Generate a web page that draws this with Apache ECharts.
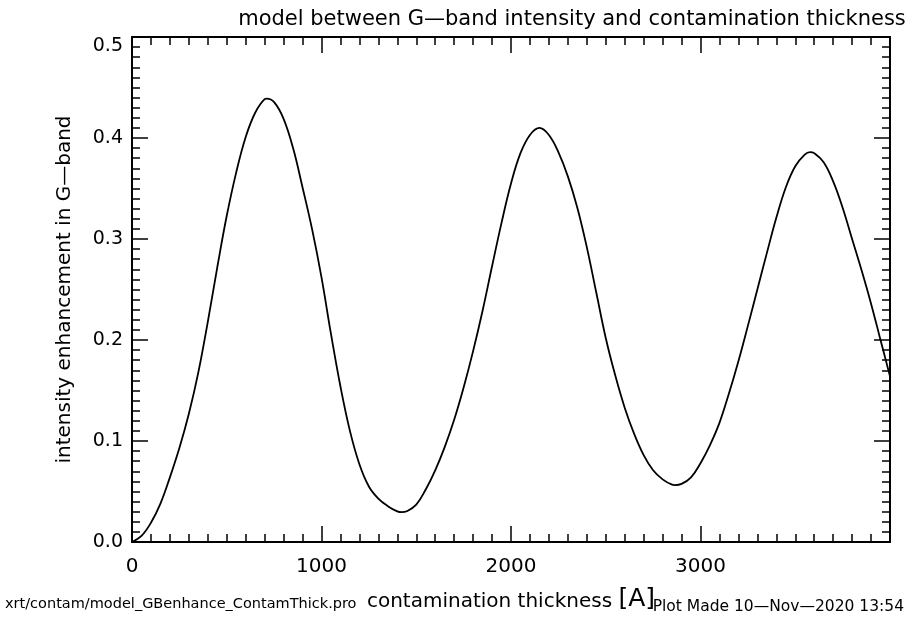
<!DOCTYPE html>
<html>
<head>
<meta charset="utf-8">
<script src="https://cdn.jsdelivr.net/npm/echarts@6/dist/echarts.min.js"></script>
<style>
html,body{margin:0;padding:0;background:#fff;}
#chart{width:914px;height:617px;}
</style>
</head>
<body>
<div id="chart"></div>
<script>
// contamination thickness [A] (read every 50, plus the read extrema)
const thickness = [0, 50, 100, 150, 200, 250, 300, 350, 400, 450, 500, 550, 600, 650, 700, 711, 750, 800, 850, 900, 950,
  1000, 1050, 1100, 1150, 1200, 1250, 1300, 1350, 1400, 1423, 1450, 1500, 1550, 1600, 1650, 1700, 1750, 1800, 1850, 1900, 1950,
  2000, 2050, 2100, 2150, 2200, 2250, 2300, 2350, 2400, 2450, 2500, 2550, 2600, 2650, 2700, 2750, 2800, 2850, 2865, 2900, 2950,
  3000, 3050, 3100, 3150, 3200, 3250, 3300, 3350, 3400, 3450, 3500, 3550, 3578, 3600, 3650, 3700, 3750, 3800, 3850, 3900, 3950, 4000];
// intensity enhancement in G-band
const enhancement = [0.000, 0.006, 0.019, 0.038, 0.064, 0.093, 0.127, 0.168, 0.218, 0.272, 0.323, 0.366, 0.401, 0.425, 0.4385, 0.439, 0.4355, 0.419, 0.390, 0.351, 0.310,
  0.262, 0.206, 0.154, 0.110, 0.077, 0.055, 0.043, 0.0355, 0.0303, 0.0295, 0.0304, 0.037, 0.052, 0.071, 0.094, 0.121, 0.153, 0.189, 0.229, 0.273, 0.316,
  0.355, 0.385, 0.403, 0.410, 0.403, 0.386, 0.362, 0.331, 0.292, 0.247, 0.202, 0.165, 0.133, 0.107, 0.086, 0.071, 0.062, 0.0568, 0.0564, 0.0575, 0.064,
  0.078, 0.096, 0.118, 0.147, 0.179, 0.214, 0.250, 0.286, 0.321, 0.351, 0.372, 0.3835, 0.386, 0.385, 0.376, 0.357, 0.331, 0.300, 0.269, 0.236, 0.200, 0.164];
const xTicks = [0, 1000, 2000, 3000];
const yTicks = [0.0, 0.1, 0.2, 0.3, 0.4, 0.5];

const FONT = 'DejaVu Sans';
const chart = echarts.init(document.getElementById('chart'));
const lineOn = {show: true, onZero: false, lineStyle: {color: '#000', width: 2}};
const lineOff = {show: false, onZero: false};
const major = {show: true, inside: true, length: 16, lineStyle: {color: '#000', width: 1.5}};
const minor = {show: true, inside: true, length: 8, lineStyle: {color: '#000', width: 1.5}};

function xAx(pos, interval, tick, withLine) {
  return {type: 'value', min: 0, max: 4000, interval: interval, position: pos,
    axisLine: withLine ? lineOn : lineOff, axisTick: tick, splitLine: {show: false}, axisLabel: {show: false}};
}
function yAx(pos, interval, tick, withLine) {
  return {type: 'value', min: 0, max: 0.5, interval: interval, position: pos,
    axisLine: withLine ? lineOn : lineOff, axisTick: tick, splitLine: {show: false}, axisLabel: {show: false}};
}

const xMain = xAx('bottom', 1000, major, true);
xMain.axisLabel = {
  show: true, margin: 15, color: '#000', fontFamily: FONT, fontSize: 20,
  formatter: v => xTicks.includes(v) ? String(v) : ''
};
xMain.name = '{a|contamination thickness }{b|[A]}';
xMain.nameLocation = 'middle';
xMain.nameGap = 45;
xMain.nameTextStyle = {rich: {
  a: {fontFamily: FONT, fontSize: 20, color: '#000', verticalAlign: 'bottom'},
  b: {fontFamily: FONT, fontSize: 25, color: '#000', verticalAlign: 'bottom'}
}};

const yMain = yAx('left', 0.1, major, true);
yMain.axisLabel = {
  show: true, margin: 9, color: '#000', fontFamily: FONT, fontSize: 19,
  verticalAlignMaxLabel: 'top',
  formatter: v => yTicks.some(t => Math.abs(t - v) < 1e-9) ? v.toFixed(1) : ''
};
yMain.name = 'intensity enhancement in G\u2014band';
yMain.nameLocation = 'middle';
yMain.nameGap = 57;
yMain.nameTextStyle = {fontFamily: FONT, fontSize: 20, color: '#000'};

chart.setOption({
  animation: false,
  backgroundColor: '#fff',
  title: {
    text: 'model between G\u2014band intensity and contamination thickness',
    left: 567, top: 4, textAlign: 'center',
    textStyle: {fontFamily: FONT, fontWeight: 'normal', fontSize: 21, color: '#000'}
  },
  grid: {left: 132, top: 37, right: 24, bottom: 75, containLabel: false},
  xAxis: [xMain, xAx('bottom', 100, minor, false), xAx('top', 1000, major, true), xAx('top', 100, minor, false)],
  yAxis: [yMain, yAx('left', 0.01, minor, false), yAx('right', 0.1, major, true), yAx('right', 0.01, minor, false)],
  graphic: [
    {type: 'text', left: 5, top: 597, style: {text: 'xrt/contam/model_GBenhance_ContamThick.pro', fontFamily: FONT, fontSize: 14.5, fill: '#000'}},
    {type: 'text', right: 10, top: 599, style: {text: 'Plot Made 10\u2014Nov\u20142020 13:54', fontFamily: FONT, fontSize: 15.5, fill: '#000'}}
  ],
  series: [{
    type: 'line',
    xAxisIndex: 0, yAxisIndex: 0,
    data: thickness.map((t, i) => [t, enhancement[i]]),
    smooth: 0.4,
    showSymbol: false,
    lineStyle: {color: '#000', width: 1.8},
    clip: true
  }]
});
</script>
</body>
</html>
